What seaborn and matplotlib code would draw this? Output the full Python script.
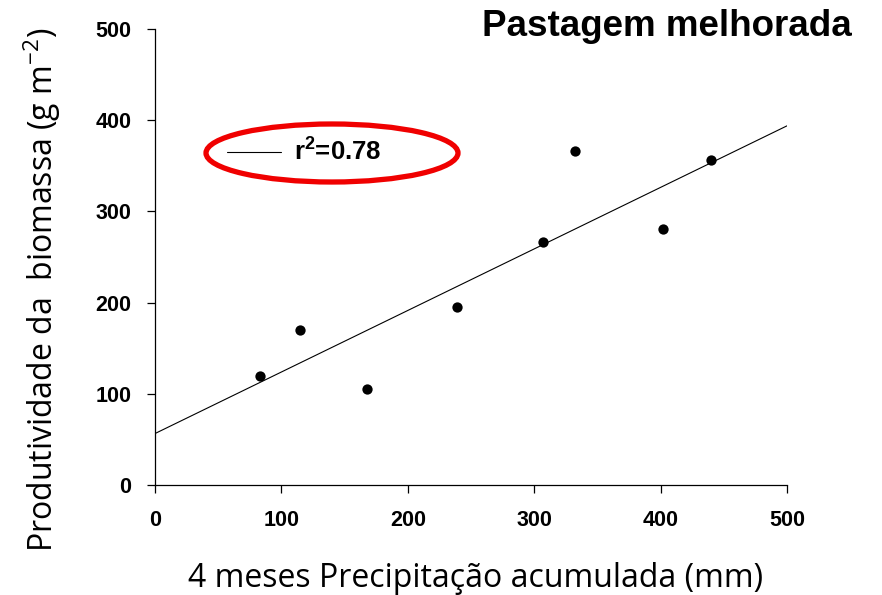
import matplotlib
matplotlib.use("Agg")
import matplotlib.pyplot as plt
from matplotlib.patches import Ellipse
import seaborn as sns
import pandas as pd

# Data
precip_mm = [83, 115, 168, 239, 307, 332, 402, 440]
biomass_g = [120, 170, 105, 195, 266, 366, 281, 356]
x_ticks = [0, 100, 200, 300, 400, 500]
y_ticks = [0, 100, 200, 300, 400, 500]
title = "Pastagem melhorada"
x_label = "4 meses Precipitação acumulada (mm)"
y_label = "Produtividade da  biomassa (g m$^{-2}$)"
r2_label = r"$\mathbf{r^{2}}$=0.78"

df = pd.DataFrame({"precip": precip_mm, "biomass": biomass_g})

sns.set_theme(style="ticks")
plt.rcParams["font.family"] = ["Liberation Sans", "DejaVu Sans"]
plt.rcParams["text.color"] = "black"
plt.rcParams["mathtext.fontset"] = "custom"
plt.rcParams["mathtext.bf"] = "Liberation Sans:bold"
plt.rcParams["mathtext.rm"] = "Open Sans"
plt.rcParams["mathtext.it"] = "Open Sans:italic"

fig = plt.figure(figsize=(8.82, 5.95), dpi=100)
ax = fig.add_axes([155/882, 1-485/595, 632/882, 456/595])
ax.set_xlim(0, 500)
ax.set_ylim(0, 500)

sns.regplot(data=df, x="precip", y="biomass", ax=ax, ci=None, truncate=False,
            scatter_kws=dict(s=55, color="black", edgecolor="black", linewidths=0,
                             alpha=1, label="_nolegend_", zorder=3),
            line_kws=dict(color="black", lw=0.8, label=r2_label))
ax.set_xlim(0, 500)
ax.set_ylim(0, 500)

ax.set_xticks(x_ticks)
ax.set_yticks(y_ticks)
for lbl in ax.get_xticklabels() + ax.get_yticklabels():
    lbl.set_fontweight("bold")
    lbl.set_fontsize(15.5)
    lbl.set_color("black")
ax.tick_params(axis="both", direction="out", length=6, width=0.9, color="black")
ax.tick_params(axis="x", pad=12)
ax.tick_params(axis="y", pad=11)
for s in ["top", "right"]:
    ax.spines[s].set_visible(False)
for s in ["left", "bottom"]:
    ax.spines[s].set_color("black")
    ax.spines[s].set_linewidth(0.9)

ax.set_xlabel(x_label, fontsize=23, family="Open Sans", color="black")
ax.set_ylabel(y_label, fontsize=23, family="Open Sans", color="black")
ax.xaxis.set_label_coords(0.508, -0.168)
ax.yaxis.set_label_coords(-0.145, 0.428)

fig.text(852/882, 1-27/595, title, ha="right", va="center",
         fontsize=26.5, fontweight="bold", color="black")

leg = ax.legend(loc="center left", bbox_to_anchor=(227/882, 1-152/595),
                bbox_transform=fig.transFigure, frameon=False,
                prop=dict(size=18.5, weight="bold", family="Liberation Sans"),
                borderpad=0, borderaxespad=0, handlelength=2.1, handletextpad=0.5)
for t in leg.get_texts():
    t.set_color("black")

ell = Ellipse((332/882, 1-153/595), 252/882, 58/595, transform=fig.transFigure,
              fill=False, edgecolor="#f00000", lw=3.8)
fig.add_artist(ell)

fig.savefig("out.png", dpi=100)
